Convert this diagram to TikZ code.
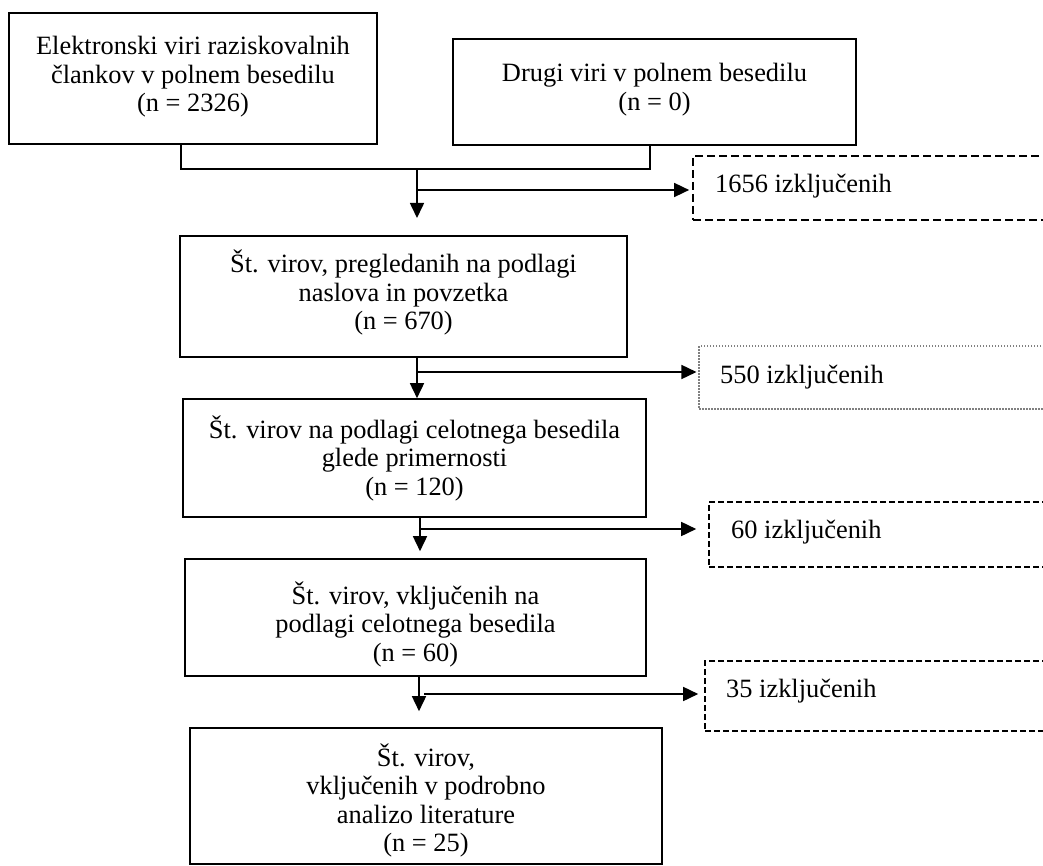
\documentclass[tikz,border=0pt]{standalone}
\usepackage{fontspec}
\setmainfont{Liberation Serif}
\usetikzlibrary{arrows.meta}
\newcommand\boxlines[1]{\vtop{\baselineskip=28.5pt\lineskiplimit=-\maxdimen\lineskip=0pt\halign{\hfil##\hfil\cr#1\crcr}}}
\tikzset{
  box/.style={draw, line width=1.6pt, rectangle, inner sep=0pt},
  exboxa/.style={draw, line width=1.7pt, dash pattern=on 8pt off 4pt, rectangle, inner sep=0pt},
  exboxb/.style={draw=gray, line width=1.1pt, dash pattern=on 1.5pt off 1.5pt, rectangle, inner sep=0pt},
  exboxc/.style={draw, line width=1.6pt, dash pattern=on 6pt off 3pt, rectangle, inner sep=0pt},
  txt/.style={font=\fontsize{26.4}{28.5}\selectfont, inner sep=0pt},
  conn/.style={line width=1.6pt},
  arr/.style={conn, -{Triangle[length=15pt,width=14pt]}},
}
\begin{document}
\begin{tikzpicture}[x=1pt,y=-1pt]
\useasboundingbox (0,0) rectangle (1043,866);
\fill[white] (0,0) rectangle (1043,866);

% main boxes
\node[box, minimum width=368pt, minimum height=131pt] (b1) at (193,78.5) {};
\node[box, minimum width=403pt, minimum height=106pt] (b2) at (654.5,92) {};
\node[box, minimum width=447pt, minimum height=121pt] (b3) at (403.5,296.5) {};
\node[box, minimum width=463pt, minimum height=118pt] (b4) at (414.5,458) {};
\node[box, minimum width=461pt, minimum height=117pt] (b5) at (415.5,617.5) {};
\node[box, minimum width=472pt, minimum height=136pt] (b6) at (426,796) {};

% texts of main boxes
\node[txt, anchor=base] (t1) at (193,55) {\boxlines{Elektronski viri raziskovalnih\cr člankov v polnem besedilu\cr (n = 2326)}};
\node[txt, anchor=base] (t2) at (654.5,82) {\boxlines{Drugi viri v polnem besedilu\cr (n = 0)}};
\node[txt, anchor=base] (t3) at (403.5,273) {\boxlines{Št. virov, pregledanih na podlagi\cr naslova in povzetka\cr (n = 670)}};
\node[txt, anchor=base] (t4) at (414.5,438) {\boxlines{Št. virov na podlagi celotnega besedila\cr glede primernosti\cr (n = 120)}};
\node[txt, anchor=base] (t5) at (415.5,604) {\boxlines{Št. virov, vključenih na\cr podlagi celotnega besedila\cr (n = 60)}};
\node[txt, anchor=base] (t6) at (426,766) {\boxlines{Št. virov,\cr vključenih v podrobno\cr analizo literature\cr (n = 25)}};

% exclusion boxes (cut by the right edge)
\begin{scope}
\clip (0,0) rectangle (1043,866);
\node[exboxa, minimum width=387pt, minimum height=64pt] (ea) at (886.5,188) {};
\node[exboxb, minimum width=381pt, minimum height=63pt] (eb) at (889.5,377.5) {};
\node[exboxc, minimum width=371pt, minimum height=65pt] (ec) at (894.5,534.5) {};
\node[exboxc, minimum width=375pt, minimum height=70pt] (ed) at (892.5,696) {};
\end{scope}
\node[txt, anchor=base west] (ta) at (715,193) {1656 izključenih};
\node[txt, anchor=base west] (tb) at (720,383) {550 izključenih};
\node[txt, anchor=base west] (tc) at (731,538) {60 izključenih};
\node[txt, anchor=base west] (td) at (726,697) {35 izključenih};

% connectors: top bracket
\coordinate (j1) at (181,169);
\coordinate (j2) at (650,169);
\coordinate (s1) at (417,169);
\coordinate (s1e) at (417,218);
\coordinate (k1) at (417,190);
\draw[conn] (b1.south -| j1) -- (j1) -- (j2) -- (b2.south -| j2);
\draw[arr] (s1) -- (s1e);
\draw[arr, shorten >=3pt] (k1) -- (ea.west |- k1);

% box 3 -> box 4
\coordinate (x2) at (417,0);
\coordinate (k2) at (417,372);
\draw[arr] (b3.south -| x2) -- (b4.north -| x2);
\draw[arr, shorten >=2pt] (k2) -- (eb.west |- k2);

% box 4 -> box 5
\coordinate (x3) at (420,0);
\coordinate (k3) at (420,529);
\draw[arr, shorten >=7pt] (b4.south -| x3) -- (b5.north -| x3);
\draw[arr, shorten >=12pt] (k3) -- (ec.west |- k3);

% box 5 -> box 6
\coordinate (x4) at (419,0);
\coordinate (k4) at (424,694);
\draw[arr, shorten >=16pt] (b5.south -| x4) -- (b6.north -| x4);
\draw[arr, shorten >=6pt] (k4) -- (ed.west |- k4);
\end{tikzpicture}
\end{document}
